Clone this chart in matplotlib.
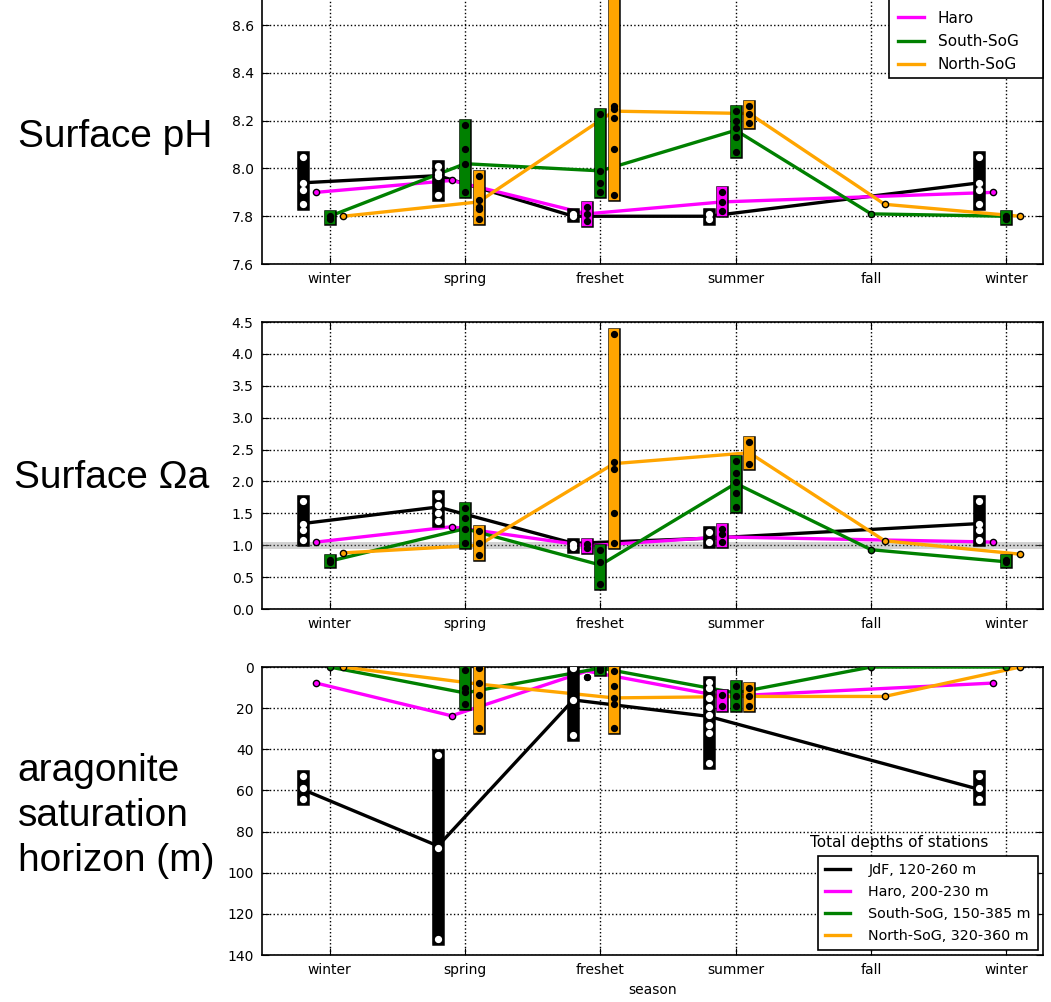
import numpy as np
import matplotlib
matplotlib.use('Agg')
import matplotlib.pyplot as plt
import matplotlib.patheffects as pe
from matplotlib.patches import Rectangle

nan = np.nan

seasons = ['winter', 'spring', 'freshet', 'summer', 'fall', 'winter']
regions = ['JdF', 'Haro', 'South-SoG', 'North-SoG']
depth_labels = ['JdF, 120-260 m', 'Haro, 200-230 m', 'South-SoG, 150-385 m', 'North-SoG, 320-360 m']
colors = ['black', 'magenta', 'green', 'orange']
offsets = [-0.2, -0.1, 0.0, 0.1]

# surface pH: station values per season, and the connecting line per season
jdf_ph = [[8.05, 7.94, 7.91, 7.85], [8.01, 7.98, 7.97, 7.89], [7.81, 7.80], [7.81, 7.79], [], [8.05, 7.94, 7.91, 7.85]]
haro_ph = [[7.90], [7.95], [7.84, 7.81, 7.78], [7.90, 7.86, 7.82], [], [7.90]]
ssog_ph = [[7.80, 7.79], [8.18, 8.08, 8.02, 7.90], [8.23, 7.99, 7.94, 7.90], [8.24, 8.20, 8.17, 8.13, 8.07], [7.81], [7.80, 7.79]]
nsog_ph = [[7.80], [7.97, 7.87, 7.84, 7.83, 7.79], [8.95, 8.26, 8.25, 8.21, 8.08, 7.89], [8.26, 8.23, 8.19], [7.85], [7.80]]
jdf_ph_line = [7.94, 7.97, 7.80, 7.80, nan, 7.94]
haro_ph_line = [7.90, 7.95, 7.81, 7.86, nan, 7.90]
ssog_ph_line = [7.80, 8.02, 7.99, 8.16, 7.81, 7.80]
nsog_ph_line = [7.80, 7.86, 8.24, 8.23, 7.85, 7.80]

# surface aragonite saturation state
jdf_om = [[1.70, 1.33, 1.24, 1.09], [1.78, 1.63, 1.51, 1.38], [1.02, 0.98], [1.20, 1.05], [], [1.70, 1.33, 1.24, 1.09]]
haro_om = [[1.05], [1.29], [1.02, 0.95], [1.25, 1.18, 1.05], [], [1.05]]
ssog_om = [[0.77, 0.73], [1.58, 1.42, 1.26, 1.03], [0.92, 0.74, 0.40], [2.32, 2.13, 1.99, 1.82, 1.60], [0.93], [0.77, 0.73]]
nsog_om = [[0.88], [1.23, 1.03, 0.85], [4.31, 2.31, 2.20, 1.51, 1.03], [2.62, 2.28], [1.07], [0.86]]
jdf_om_line = [1.34, 1.60, 1.03, 1.11, nan, 1.34]
haro_om_line = [1.05, 1.29, 0.99, 1.13, nan, 1.05]
ssog_om_line = [0.75, 1.26, 0.69, 1.97, 0.93, 0.74]
nsog_om_line = [0.88, 1.00, 2.28, 2.45, 1.07, 0.86]

# aragonite saturation horizon depth (m)
jdf_hz = [[53, 59, 64], [43, 88, 132], [0.5, 16, 33], [7.3, 10.2, 15, 19.5, 23.2, 28, 32, 46.7], [], [53, 59, 64]]
haro_hz = [[7.8], [23.7], [4.9, 4.9], [19, 13.5], [], [7.8]]
ssog_hz = [[0], [1.3, 10, 12, 18], [0.5, 1.5], [9.4, 14.3, 19], [0], [0]]
nsog_hz = [[0], [0.5, 7.8, 13.5, 29.7], [1.8, 9, 15, 18, 29.7], [10, 14.3, 19], [14.3], [0]]
jdf_hz_line = [59.5, 87, 16, 24, nan, 59.5]
haro_hz_line = [7.8, 23.7, 2.0, 14.3, nan, 7.8]
ssog_hz_line = [0, 12.6, 0.5, 12.6, 0, 0]
nsog_hz_line = [0, 8.3, 15, 14.3, 14.3, 0]


def draw_panel(ax, stations, lines):
    handles = []
    xs = np.arange(len(seasons))
    for i in range(4):
        x = xs + offsets[i]
        y = np.array(lines[i], dtype=float)
        ok = ~np.isnan(y)
        h, = ax.plot(x[ok], y[ok], color=colors[i], lw=2.4, zorder=3)
        handles.append(h)
        for s, vals in enumerate(stations[i]):
            if len(vals) > 1:
                ax.plot([x[s], x[s]], [min(vals), max(vals)], color=colors[i], lw=7.5,
                        solid_capstyle='projecting', zorder=4,
                        path_effects=[pe.Stroke(linewidth=9, foreground='k'), pe.Normal()])
                fc = 'white' if i == 0 else 'black'
                ax.plot([x[s]] * len(vals), vals, 'o', ms=4.2, mfc=fc, mec=fc, zorder=5)
            elif len(vals) == 1:
                ax.plot(x[s], vals[0], 'o', ms=4.5, mfc=colors[i], mec='k', mew=1, zorder=5)
    ax.set_xticks(xs)
    ax.set_xticklabels(seasons)
    ax.set_xlim(-0.5, 5.27)
    ax.grid(True, color='black', linestyle=':', lw=1)
    ax.set_axisbelow(True)
    ax.tick_params(direction='in', top=True, right=True, length=5, labelsize=10, pad=6)
    for sp in ax.spines.values():
        sp.set_linewidth(1.2)
    return handles


fig = plt.figure(figsize=(10.51, 10.02), dpi=100)
ax1 = fig.add_axes([0.2493, 0.7365, 0.7431, 0.2794])
ax2 = fig.add_axes([0.2493, 0.3922, 0.7431, 0.2864])
ax3 = fig.add_axes([0.2493, 0.0469, 0.7431, 0.2874])

h1 = draw_panel(ax1, [jdf_ph, haro_ph, ssog_ph, nsog_ph],
                [jdf_ph_line, haro_ph_line, ssog_ph_line, nsog_ph_line])
ax1.set_ylim(7.6, 8.772)
ax1.set_yticks(np.arange(7.6, 8.61, 0.2))
# legend frame runs past the top of the picture (first entry cropped away)
ax1.add_patch(Rectangle((0.803, 0.664), 0.197, 0.5, transform=ax1.transAxes,
                        facecolor='white', edgecolor='black', lw=1.2, zorder=6, clip_on=False))
leg = ax1.legend(h1[1:], regions[1:], loc='upper left', bbox_to_anchor=(0.8145, 0.905),
                 borderpad=0, borderaxespad=0, fontsize=11, frameon=False,
                 handlelength=1.7, handletextpad=0.9, labelspacing=0.55)
leg.set_zorder(7)

ax2.axhline(1.0, color='gray', lw=5, alpha=0.35, zorder=1)
draw_panel(ax2, [jdf_om, haro_om, ssog_om, nsog_om],
           [jdf_om_line, haro_om_line, ssog_om_line, nsog_om_line])
ax2.set_ylim(0, 4.5)
ax2.set_yticks(np.arange(0, 4.51, 0.5))

h3 = draw_panel(ax3, [jdf_hz, haro_hz, ssog_hz, nsog_hz],
                [jdf_hz_line, haro_hz_line, ssog_hz_line, nsog_hz_line])
ax3.set_ylim(140, 0)
ax3.set_yticks(np.arange(0, 141, 20))
ax3.set_xlabel('season', fontsize=10)
leg3 = ax3.legend(h3, depth_labels, loc='lower right', borderaxespad=0.35, fontsize=10.3,
                  fancybox=False, framealpha=1, edgecolor='black', borderpad=0.5,
                  handlelength=1.7, handletextpad=1.3, labelspacing=0.55)
leg3.get_frame().set_linewidth(1.2)
ax3.text(0.7017, 0.392, 'Total depths of stations', transform=ax3.transAxes,
         fontsize=11, va='center', ha='left')

lab = dict(fontsize=28, family='Liberation Sans', ha='left', va='center')
fig.text(0.017, 0.8633, 'Surface pH', **lab)
fig.text(0.013, 0.523, 'Surface \u03a9a', **lab)
fig.text(0.017, 0.1856, 'aragonite\nsaturation\nhorizon (m)', linespacing=1.32, **lab)

fig.savefig('out.png', dpi=100)
